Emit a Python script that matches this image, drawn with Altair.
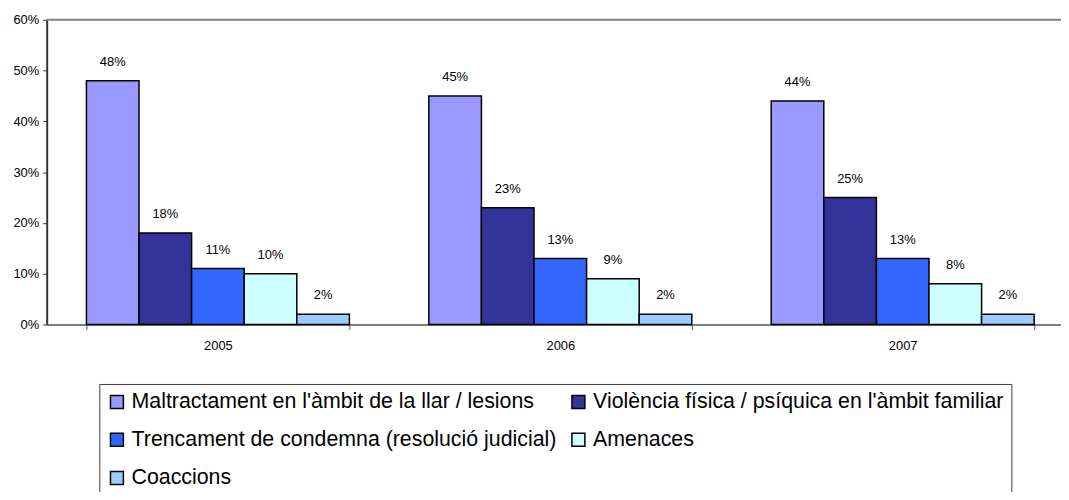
import altair as alt
import pandas as pd

years = ["2005", "2006", "2007"]
categories = [
    "Maltractament en l'àmbit de la llar / lesions",
    "Violència física / psíquica en l'àmbit familiar",
    "Trencament de condemna (resolució judicial)",
    "Amenaces",
    "Coaccions",
]
values_2005 = [48, 18, 11, 10, 2]
values_2006 = [45, 23, 13, 9, 2]
values_2007 = [44, 25, 13, 8, 2]
colors = ["#9999FF", "#333399", "#3366FF", "#CCFFFF", "#99CCFF"]
y_ticks = [0, 10, 20, 30, 40, 50, 60]

# legend entries are laid out column by column: left column first
legend_order = [0, 2, 4, 1, 3]
legend_domain = [categories[i] for i in legend_order]
legend_range = [colors[i] for i in legend_order]

rows = []
for yr, vals in zip(years, [values_2005, values_2006, values_2007]):
    for cat, v in zip(categories, vals):
        rows.append({"year": yr, "category": cat, "value": v, "label": f"{v}%"})
df = pd.DataFrame(rows)

FONT = "Liberation Sans"

x_enc = alt.X(
    "year:N",
    sort=years,
    scale=alt.Scale(range=[0, 1035], paddingInner=0.232, paddingOuter=0.116),
    axis=alt.Axis(
        title=None, labelAngle=0, tickBand="extent", tickSize=5, labelPadding=10,
        domainColor="#555555", domainWidth=1.5, tickColor="#555555", tickWidth=1,
        labelFont=FONT, labelFontSize=13, labelColor="#000000",
    ),
)
xoff_enc = alt.XOffset("category:N", sort=categories,
                       scale=alt.Scale(paddingInner=0, paddingOuter=0))
y_enc = alt.Y(
    "value:Q",
    scale=alt.Scale(domain=[0, 60], nice=False),
    axis=alt.Axis(
        title=None, values=y_ticks, labelExpr="datum.value + '%'", grid=False,
        tickSize=4, labelPadding=4, domainColor="#333333", domainWidth=2,
        tickColor="#333333", tickWidth=1,
        labelFont=FONT, labelFontSize=13, labelColor="#000000",
    ),
)

base = alt.Chart(df)

top_line = alt.Chart(pd.DataFrame({"v": [60]})).mark_rule(
    color="#808080", strokeWidth=2
).encode(y=alt.Y("v:Q"))

bars = base.mark_bar(stroke="black", strokeWidth=1.5).encode(
    x=x_enc,
    xOffset=xoff_enc,
    y=y_enc,
    color=alt.Color(
        "category:N",
        scale=alt.Scale(domain=legend_domain, range=legend_range),
        legend=alt.Legend(
            title=None, orient="none", legendX=53, legendY=367, columns=2,
            symbolType="square", symbolSize=169, symbolStrokeColor="black",
            symbolStrokeWidth=1.5, labelFont=FONT, labelFontSize=21.5,
            labelColor="#000000", labelOffset=4, rowPadding=15.5, columnPadding=11,
            padding=7, strokeColor="#404040", labelLimit=800,
        ),
    ),
)

texts = base.mark_text(
    dy=-15, baseline="alphabetic", fontSize=13, font=FONT, color="#000000"
).encode(x=x_enc, xOffset=xoff_enc, y=y_enc, text="label:N")

chart = alt.layer(top_line, bars, texts).properties(
    width=1022, height=307,
    autosize=alt.AutoSizeParams(type="none"),
    padding={"left": 39, "top": 10, "right": 0, "bottom": 167},
).configure_view(stroke=None)

chart.save("out.html", embed_options={"renderer": "svg", "actions": False})
